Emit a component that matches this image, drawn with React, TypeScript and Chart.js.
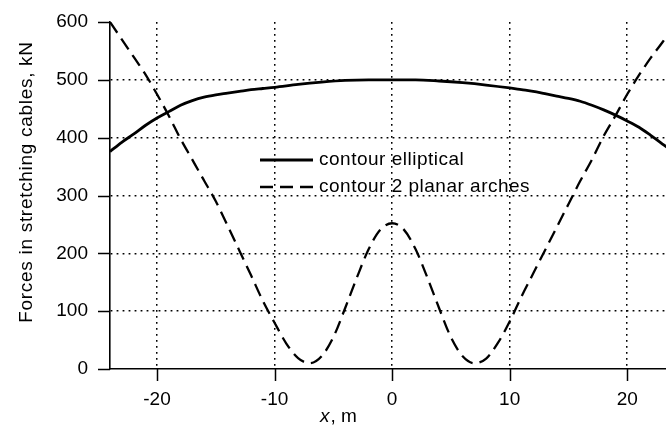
import React, { useEffect, useRef } from "react";
import { Chart, registerables } from "chart.js";

Chart.register(...registerables);

// ---- data ----
const xSolid = [-24, -23, -22, -21, -20, -19, -18, -17, -16, -15, -14, -13, -12, -11, -10, -8, -6, -4, -2, 0, 2, 4, 6, 8, 10, 11, 12, 13, 14, 15, 16, 17, 18, 19, 20, 21, 22, 23, 24];
const ySolid = [376, 392, 406, 421, 434, 445, 456, 464, 470, 474, 477, 480, 483, 485, 487, 492, 496, 499, 500, 500, 500, 498, 495, 491, 486, 483, 480, 476, 472, 468, 463, 456, 448, 439, 429, 418, 404, 389, 375];

const xDashed = [-24, -23, -22, -21, -20, -19, -18, -17, -16, -15, -14, -13, -12, -11, -10, -9, -8, -7, -6, -5, -4, -3, -2, -1, 0, 1, 2, 3, 4, 5, 6, 7, 8, 9, 10, 11, 12, 13, 14, 15, 16, 17, 18, 19, 20, 21, 22, 23, 24];
const yDashed = [600, 570, 540, 510, 475, 438, 398, 362, 326, 290, 248, 205, 162, 118, 80, 44, 19, 10, 22, 55, 105, 158, 207, 241, 252, 241, 207, 158, 105, 55, 22, 10, 18, 45, 82, 125, 165, 205, 245, 285, 325, 362, 403, 438, 475, 508, 538, 565, 595];

const xTicks = [-20, -10, 0, 10, 20];
const yTicks = [0, 100, 200, 300, 400, 500, 600];

const labelSolid = "contour elliptical";
const labelDashed = "contour 2 planar arches";
const yTitle = "Forces in stretching cables, kN";
const xTitleItalic = "x";
const xTitleRest = ", m";

const FONT = "'Liberation Sans', Arial, sans-serif";
const TICK_LEN = 12;

const overlayPlugin = {
  id: "overlay",
  afterDraw(chart: any) {
    const ctx = chart.ctx as CanvasRenderingContext2D;
    const area = chart.chartArea;
    const sx = chart.scales.x;
    const sy = chart.scales.y;
    ctx.save();
    ctx.fillStyle = "#000";

    // outward tick marks
    ctx.strokeStyle = "#000";
    ctx.lineWidth = 1.5;
    ctx.setLineDash([]);
    ctx.beginPath();
    yTicks.forEach((v) => {
      const p = Math.round(sy.getPixelForValue(v)) + 0.5;
      ctx.moveTo(area.left - TICK_LEN, p);
      ctx.lineTo(area.left, p);
    });
    xTicks.forEach((v) => {
      const p = Math.round(sx.getPixelForValue(v)) + 0.5;
      ctx.moveTo(p, area.bottom);
      ctx.lineTo(p, area.bottom + TICK_LEN);
    });
    ctx.stroke();

    // y title
    ctx.save();
    ctx.translate(31.5, 182);
    ctx.rotate(-Math.PI / 2);
    ctx.font = `19px ${FONT}`;
    (ctx as any).letterSpacing = "0.7px";
    ctx.textAlign = "center";
    ctx.textBaseline = "alphabetic";
    ctx.fillText(yTitle, 0, 0);
    ctx.restore();

    // x title
    ctx.textBaseline = "alphabetic";
    ctx.textAlign = "left";
    ctx.font = `italic 19px ${FONT}`;
    const xStart = 320;
    ctx.fillText(xTitleItalic, xStart, 422);
    const w = ctx.measureText(xTitleItalic).width;
    ctx.font = `19px ${FONT}`;
    ctx.fillText(xTitleRest, xStart + w + 1, 422);

    // legend
    const ds = chart.data.datasets;
    const lx1 = 260, lx2 = 313, tx = 319;
    const rows = [160, 187];
    ds.forEach((d: any, i: number) => {
      const y = rows[i];
      ctx.save();
      ctx.strokeStyle = d.borderColor;
      ctx.lineWidth = d.borderWidth;
      ctx.setLineDash(d.borderDash || []);
      ctx.beginPath();
      ctx.moveTo(lx1, y);
      ctx.lineTo(lx2, y);
      ctx.stroke();
      ctx.restore();
      ctx.save();
      ctx.font = `19px ${FONT}`;
      (ctx as any).letterSpacing = "0.5px";
      ctx.textBaseline = "middle";
      ctx.fillText(d.label, tx, y);
      ctx.restore();
    });
    ctx.restore();
  },
};

export default function App() {
  const ref = useRef<HTMLCanvasElement | null>(null);
  useEffect(() => {
    if (!ref.current) return;
    const chart = new Chart(ref.current, {
      type: "line",
      data: {
        datasets: [
          {
            label: labelSolid,
            data: xSolid.map((x, i) => ({ x, y: ySolid[i] })),
            borderColor: "#000",
            borderWidth: 2.8,
            pointRadius: 0,
            tension: 0.4,
            cubicInterpolationMode: "monotone",
            fill: false,
          },
          {
            label: labelDashed,
            data: xDashed.map((x, i) => ({ x, y: yDashed[i] })),
            borderColor: "#000",
            borderWidth: 2.3,
            borderDash: [13, 7],
            pointRadius: 0,
            tension: 0.4,
            cubicInterpolationMode: "monotone",
            fill: false,
          },
        ],
      },
      options: {
        animation: false,
        responsive: false,
        events: [],
        layout: { padding: { top: 22, right: 0, left: 0, bottom: 0 } },
        plugins: { legend: { display: false }, tooltip: { enabled: false }, title: { display: false } },
        scales: {
          x: {
            type: "linear",
            min: -24,
            max: 23.3,
            afterBuildTicks: (s: any) => {
              s.ticks = xTicks.map((v) => ({ value: v }));
            },
            afterFit: (s: any) => {
              s.height = 57;
              s.paddingLeft = 0;
              s.paddingRight = 0;
            },
            ticks: {
              color: "#000",
              font: { family: FONT, size: 19 },
              padding: 19,
              maxRotation: 0,
              callback: (v: any) => String(v),
            },
            grid: {
              color: "#000",
              lineWidth: 1.5,
              drawTicks: false,
            },
            border: { display: true, color: "#000", width: 1.6, dash: [1.8, 4.2] },
          },
          y: {
            type: "linear",
            min: 0,
            max: 600,
            afterBuildTicks: (s: any) => {
              s.ticks = yTicks.map((v) => ({ value: v }));
            },
            afterFit: (s: any) => {
              s.width = 110;
              s.paddingTop = 0;
              s.paddingBottom = 0;
            },
            ticks: {
              color: "#000",
              font: { family: FONT, size: 19 },
              padding: 22,
            },
            grid: {
              color: (c: any) => (c.tick && (c.tick.value === 0 || c.tick.value === 600) ? "rgba(0,0,0,0)" : "#000"),
              lineWidth: 1.5,
              drawTicks: false,
            },
            border: { display: true, color: "#000", width: 1.6, dash: [1.8, 4.2] },
          },
        },
      },
      plugins: [overlayPlugin],
    } as any);
    return () => chart.destroy();
  }, []);
  return (
    <div style={{ position: "absolute", left: 0, top: 0, width: 666, height: 426, background: "#fff" }}>
      <canvas ref={ref} width={666} height={426} style={{ display: "block" }} />
    </div>
  );
}
